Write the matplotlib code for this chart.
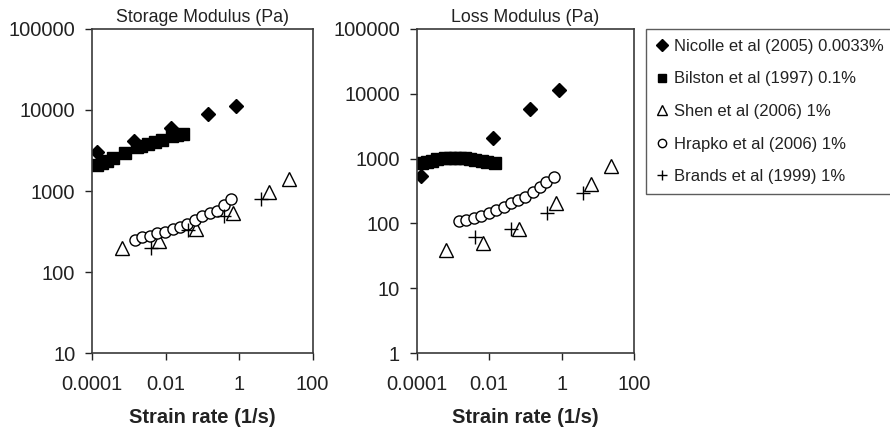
import matplotlib
matplotlib.use('Agg')
import matplotlib.pyplot as plt

plt.rcParams['font.family'] = ['Liberation Sans', 'DejaVu Sans']

# Nicolle et al (2005) 0.0033%
nicolle_x_storage = [1.35e-4, 1.38e-3, 0.014, 0.139, 0.82]
nicolle_storage = [3050, 4140, 6000, 8900, 11300]
nicolle_x_loss = [1.3e-4, 0.0131, 0.137, 0.85]
nicolle_loss = [540, 2100, 5900, 11300]

# Bilston et al (1997) 0.1%
bilston_x_storage = [1.34e-4, 1.84e-4, 2.5e-4, 3.8e-4, 7.9e-4, 1.64e-3, 2.2e-3,
                     3.4e-3, 5.1e-3, 7.8e-3, 0.0147, 0.02, 0.03]
bilston_storage = [2095, 2200, 2370, 2535, 2920, 3525, 3600,
                   3800, 4060, 4270, 4780, 4910, 5060]
bilston_x_loss = [1.4e-4, 1.93e-4, 2.65e-4, 3.64e-4, 6.1e-4, 8.5e-4, 1.16e-3,
                  1.6e-3, 2.2e-3, 3.0e-3, 4.2e-3, 6.4e-3, 8.7e-3, 0.0148]
bilston_loss = [865, 895, 930, 975, 1010, 1010, 1020,
                1020, 1010, 985, 950, 918, 895, 845]

# Shen et al (2006) 1%
shen_x = [6.4e-4, 6.7e-3, 0.066, 0.68, 6.6, 23]
shen_storage = [196, 243, 336, 531, 964, 1406]
shen_loss = [39, 49, 81, 204, 401, 776]

# Hrapko et al (2006) 1%
hrapko_x = [1.5e-3, 2.3e-3, 3.7e-3, 6e-3, 9.6e-3, 0.0155, 0.025,
            0.039, 0.062, 0.1, 0.16, 0.25, 0.38, 0.62]
hrapko_storage = [248, 268, 281, 300, 315, 340, 362,
                  388, 439, 496, 531, 572, 671, 796]
hrapko_loss = [109, 113, 120, 130, 143, 161, 177,
               204, 230, 258, 308, 361, 440, 526]

# Brands et al (1999) 1%
brands_x = [4.1e-3, 0.041, 0.39, 4.0]
brands_storage = [196, 330, 491, 796]
brands_loss = [61, 81, 146, 298]

labels = ['Nicolle et al (2005) 0.0033%', 'Bilston et al (1997) 0.1%',
          'Shen et al (2006) 1%', 'Hrapko et al (2006) 1%', 'Brands et al (1999) 1%']

x_ticks = [1e-4, 1e-2, 1, 100]
x_ticklabels = ['0.0001', '0.01', '1', '100']

ink = '#222222'


def draw_panel(ax, nic, bil, shen, hrap, bra, title, ymin):
    ax.plot(nic[0], nic[1], 'D', color='black', ms=7.5, label=labels[0])
    ax.plot(bil[0], bil[1], 's', color='black', ms=8, label=labels[1])
    ax.plot(shen[0], shen[1], '^', mfc='white', mec='black', mew=1, ms=9.5, label=labels[2])
    ax.plot(hrap[0], hrap[1], 'o', mfc='white', mec='black', mew=1, ms=8, label=labels[3])
    ax.plot(bra[0], bra[1], '+', color='black', mew=1, ms=10, label=labels[4])
    ax.set_xscale('log')
    ax.set_yscale('log')
    ax.set_xlim(1e-4, 100)
    ax.set_ylim(ymin, 1e5)
    ax.set_xticks(x_ticks)
    ax.set_xticklabels(x_ticklabels)
    yt = [v for v in [1, 10, 100, 1000, 10000, 100000] if v >= ymin]
    ax.set_yticks(yt)
    ax.set_yticklabels([str(v) for v in yt])
    ax.minorticks_off()
    ax.tick_params(axis='both', labelsize=14.5, colors=ink, length=5, width=1, direction='out')
    ax.tick_params(axis='x', pad=11)
    ax.tick_params(axis='y', pad=7)
    for s in ax.spines.values():
        s.set_color('#3a3a3a')
        s.set_linewidth(1.2)
    ax.set_title(title, fontsize=12.8, color=ink, pad=5)
    ax.set_xlabel('Strain rate (1/s)', fontsize=14.5, fontweight='bold', color=ink, labelpad=10)


fig = plt.figure(figsize=(8.9, 4.34), dpi=100)
ax1 = fig.add_axes([0.1034, 0.1866, 0.2479, 0.7466])
ax2 = fig.add_axes([0.4682, 0.1866, 0.2442, 0.7466])

draw_panel(ax1, (nicolle_x_storage, nicolle_storage), (bilston_x_storage, bilston_storage),
           (shen_x, shen_storage), (hrapko_x, hrapko_storage), (brands_x, brands_storage),
           'Storage Modulus (Pa)', 10)
draw_panel(ax2, (nicolle_x_loss, nicolle_loss), (bilston_x_loss, bilston_loss),
           (shen_x, shen_loss), (hrapko_x, hrapko_loss), (brands_x, brands_loss),
           'Loss Modulus (Pa)', 1)

handles, lbls = ax2.get_legend_handles_labels()
leg = fig.legend(handles, lbls, loc='upper left', bbox_to_anchor=(646 / 890, 1 - 29 / 434),
                 fontsize=12, frameon=True, fancybox=False, edgecolor='#333333',
                 handlelength=0.7, handletextpad=0.35, labelspacing=1.05,
                 borderpad=0.6, borderaxespad=0, markerscale=0.75)
leg.get_frame().set_linewidth(1)
for t in leg.get_texts():
    t.set_color(ink)

fig.savefig('out.png', dpi=100)
